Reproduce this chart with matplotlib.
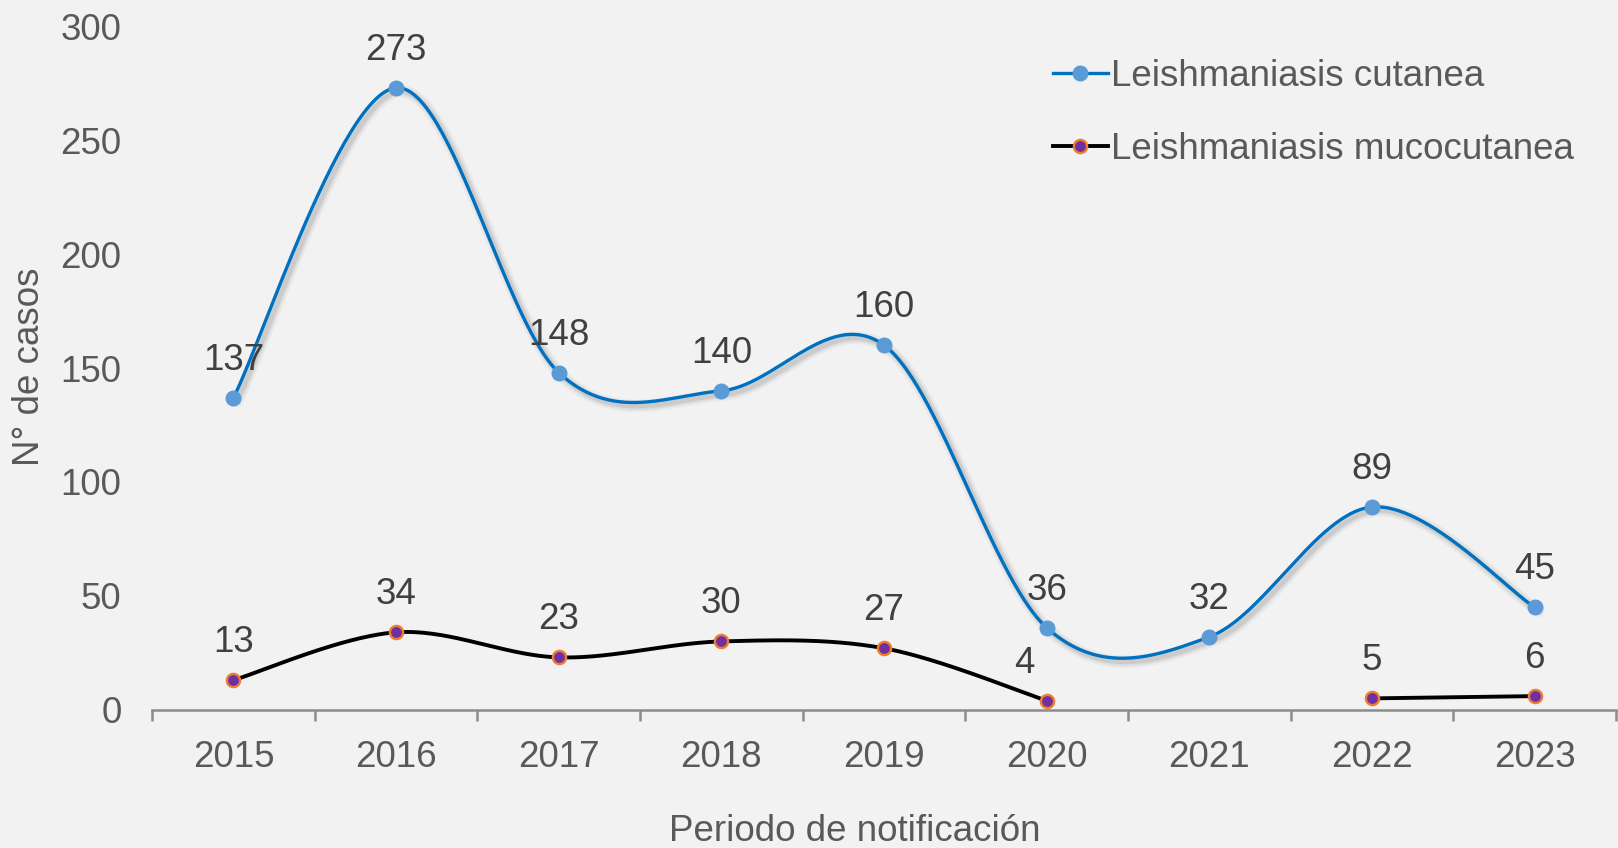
import numpy as np
import matplotlib
matplotlib.use("Agg")
import matplotlib.pyplot as plt
import matplotlib.patheffects as pe
from matplotlib.lines import Line2D

# datos de notificación por año
years = ["2015", "2016", "2017", "2018", "2019", "2020", "2021", "2022", "2023"]
cutanea = [137, 273, 148, 140, 160, 36, 32, 89, 45]
mucocutanea = [13, 34, 23, 30, 27, 4, None, 5, 6]

plt.rcParams['font.family'] = ['Liberation Sans', 'DejaVu Sans']
BG = '#f2f2f2'
FS = 26.5


def catmull_rom(xs, ys, n=60):
    # curva suavizada tipo Excel (Catmull-Rom) entre puntos consecutivos
    px, py = [], []
    m = len(xs)
    for i in range(m - 1):
        x0, y0 = (xs[i - 1], ys[i - 1]) if i > 0 else (xs[i], ys[i])
        x1, y1 = xs[i], ys[i]
        x2, y2 = xs[i + 1], ys[i + 1]
        x3, y3 = (xs[i + 2], ys[i + 2]) if i + 2 < m else (x2, y2)
        t = np.linspace(0, 1, n)
        c1x, c1y = x1 + (x2 - x0) / 6, y1 + (y2 - y0) / 6
        c2x, c2y = x2 - (x3 - x1) / 6, y2 - (y3 - y1) / 6
        bx = (1-t)**3*x1 + 3*(1-t)**2*t*c1x + 3*(1-t)*t**2*c2x + t**3*x2
        by = (1-t)**3*y1 + 3*(1-t)**2*t*c1y + 3*(1-t)*t**2*c2y + t**3*y2
        px.extend(bx)
        py.extend(by)
    return np.array(px), np.array(py)


def segments(vals):
    # separa la serie donde faltan datos
    segs, cur = [], []
    for i, v in enumerate(vals):
        if v is None:
            if cur:
                segs.append(cur)
            cur = []
        else:
            cur.append(i)
    if cur:
        segs.append(cur)
    return segs


fig = plt.figure(figsize=(16.18, 8.48), dpi=100, facecolor=BG)
ax = fig.add_axes([0.094, 0.163, 0.9048, 0.806], facecolor=BG)

x = np.arange(len(years))

# sombra difusa de la línea azul
shadow = [pe.SimpleLineShadow(offset=(2.5, -2.5), shadow_color='#808080', alpha=a, linewidth=w)
          for a, w in [(0.08, 9), (0.12, 6), (0.18, 3.5)]]

sx, sy = catmull_rom(list(x), cutanea)
ax.plot(sx, sy, color='#0070C0', lw=2.4, solid_capstyle='round',
        path_effects=shadow + [pe.Normal()], zorder=3)
ax.plot(x, cutanea, 'o', ms=10.5, color='#5B9BD5', mec='#5B9BD5', zorder=4)

for seg in segments(mucocutanea):
    xs = [x[i] for i in seg]
    ys = [mucocutanea[i] for i in seg]
    mx, my = catmull_rom(xs, ys)
    ax.plot(mx, my, color='black', lw=2.8, solid_capstyle='round', zorder=3)
    ax.plot(xs, ys, 'o', ms=9.5, color='#7030A0', mec='#ED7D31', mew=1.7, zorder=4)

# etiquetas de datos
for i, v in enumerate(cutanea):
    ax.annotate(str(v), (x[i], v), xytext=(0, 27), textcoords='offset points',
                ha='center', va='center', fontsize=FS, color='#404040', zorder=5)
for i, v in enumerate(mucocutanea):
    if v is None:
        continue
    dx = -16 if v == 4 else 0
    ax.annotate(str(v), (x[i], v), xytext=(dx, 27), textcoords='offset points',
                ha='center', va='center', fontsize=FS, color='#404040', zorder=5)

ax.set_xlim(-0.5, len(years) - 0.5)
ax.set_ylim(0, 300)
ax.set_yticks(range(0, 301, 50))
ax.set_xticks(x)
ax.set_xticklabels(years)
ax.set_xticks(np.arange(-0.5, len(years), 1), minor=True)
ax.tick_params(axis='x', which='major', length=0, pad=22, labelsize=FS, labelcolor='#595959')
ax.tick_params(axis='x', which='minor', length=8, width=1.8, color='#8c8c8c')
ax.tick_params(axis='y', length=0, pad=22, labelsize=FS, labelcolor='#595959')

for s in ['top', 'right', 'left']:
    ax.spines[s].set_visible(False)
ax.spines['bottom'].set_color('#8c8c8c')
ax.spines['bottom'].set_linewidth(1.8)

fig.text(0.018, 0.568, 'N° de casos', rotation=90, ha='center', va='center',
         fontsize=FS, color='#595959')
fig.text(0.528, 0.02, 'Periodo de notificación', ha='center', va='center',
         fontsize=FS, color='#595959')

handles = [
    Line2D([], [], color='#0070C0', lw=2.4, marker='o', ms=10.5, mfc='#5B9BD5', mec='#5B9BD5'),
    Line2D([], [], color='black', lw=2.8, marker='o', ms=9.5, mfc='#7030A0', mec='#ED7D31', mew=1.7),
]
leg = ax.legend(handles, ['Leishmaniasis cutanea', 'Leishmaniasis mucocutanea'],
                loc='upper left', bbox_to_anchor=(0.6, 0.985), frameon=False,
                fontsize=FS, labelcolor='#595959', handlelength=1.5,
                handletextpad=0.1, labelspacing=1.05, borderaxespad=0.2)

fig.savefig('out.png', dpi=100, facecolor=BG)
